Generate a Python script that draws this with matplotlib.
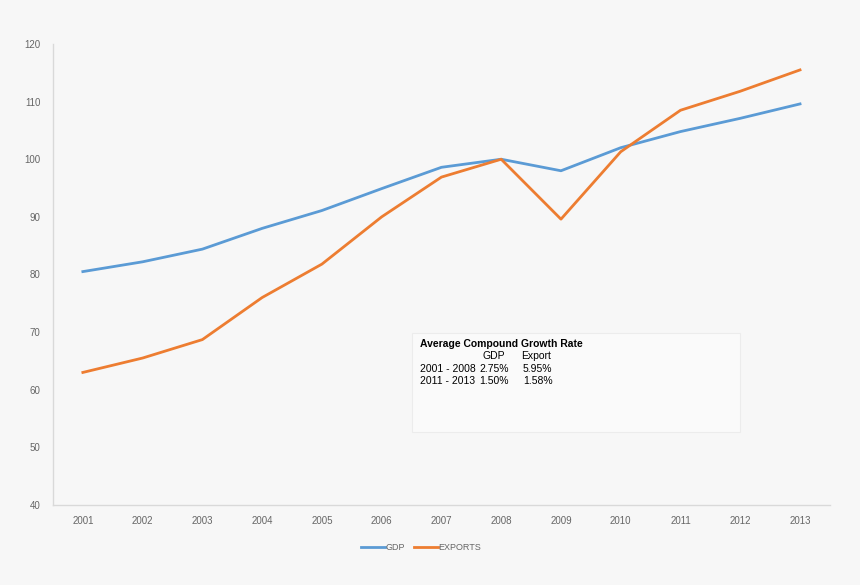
import numpy as np
import matplotlib.pyplot as plt

plt.rcParams['font.family'] = ['Liberation Sans', 'DejaVu Sans']

years = [str(y) for y in range(2001, 2014)]
gdp = [80.5, 82.2, 84.4, 88.0, 91.1, 94.9, 98.6, 100.0, 98.0, 102.0, 104.8, 107.1, 109.6]
exports = [63.0, 65.5, 68.7, 76.0, 81.8, 90.0, 96.9, 100.0, 89.6, 101.3, 108.5, 111.8, 115.5]
yticks = np.arange(40, 121, 10)

bg = '#f7f7f7'
fig = plt.figure(figsize=(8.6, 5.85), dpi=100, facecolor=bg)
ax = fig.add_axes([0.0616, 0.1368, 0.9034, 0.788])
ax.set_facecolor(bg)

x = np.arange(len(years))
ax.plot(x, gdp, color='#5b9bd5', lw=2.0, label='GDP')
ax.plot(x, exports, color='#ed7d31', lw=2.0, label='EXPORTS')

ax.set_xlim(-0.5, len(years) - 0.5)
ax.set_ylim(40, 120)
ax.set_yticks(yticks)
ax.set_xticks(x)
ax.set_xticklabels(years)
ax.tick_params(axis='both', length=0, labelsize=7, colors='#666666')
ax.tick_params(axis='x', pad=8)
ax.tick_params(axis='y', pad=9)
for s in ['top', 'right']:
    ax.spines[s].set_visible(False)
for s in ['left', 'bottom']:
    ax.spines[s].set_color('#d9d9d9')
    ax.spines[s].set_linewidth(1.0)

# growth rate box
box = plt.Rectangle((412 / 860, 1 - 432 / 585), 328 / 860, 99 / 585,
                    transform=fig.transFigure, facecolor='#fafafa',
                    edgecolor='#ececec', lw=0.8, zorder=3)
fig.patches.append(box)
fig.text(420 / 860, 1 - 344 / 585, 'Average Compound Growth Rate',
         fontsize=7.5, fontweight='bold', va='center', ha='left')
rows = [('', 'GDP', 'Export'),
        ('2001 - 2008', '2.75%', '5.95%'),
        ('2011 - 2013', '1.50%', '1.58%')]
for i, (a, b, c) in enumerate(rows):
    yy = 1 - (356 + i * 12.5) / 585
    fig.text(420 / 860, yy, a, fontsize=7.5, va='center', ha='left')
    fig.text((483 if i == 0 else 479) / 860, yy, b, fontsize=7.5, va='center', ha='left')
    fig.text((521 if i == 0 else 523) / 860, yy, c, fontsize=7.5, va='center', ha='left')

leg = ax.legend(loc='upper center', bbox_to_anchor=(0.474, -0.065), ncol=2,
                frameon=False, fontsize=6.5, handlelength=2.6, handletextpad=0.1,
                columnspacing=1.0)
for t in leg.get_texts():
    t.set_color('#666666')

fig.savefig('out.png', dpi=100, facecolor=bg)
